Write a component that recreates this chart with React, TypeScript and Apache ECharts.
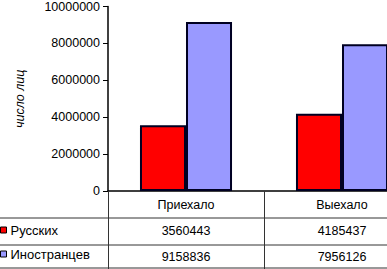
import React, { useEffect, useRef } from "react";
import * as echarts from "echarts";

const categories = ["Приехало", "Выехало"];
const seriesNames = ["Русских", "Иностранцев"];
const russians = [3560443, 4185437];
const foreigners = [9158836, 7956126];
const yTicks = { min: 0, max: 10000000, interval: 2000000 };
const colors = ["#FF0000", "#9999FF"];

export default function App() {
  const ref = useRef<HTMLDivElement>(null);
  useEffect(() => {
    if (!ref.current) return;
    const chart = echarts.init(ref.current, undefined, { renderer: "svg" });
    const font = "Arial, 'Liberation Sans', sans-serif";
    const gridLeft = 108;
    const gridTop = 4;
    const gridBottomY = 191;
    const rowYs = [204.5, 231, 257];
    const lineYs = [218, 245, 268];
    chart.setOption({
      animation: false,
      backgroundColor: "#ffffff",
      grid: { left: gridLeft, top: gridTop, width: 312, height: gridBottomY - gridTop, containLabel: false },
      xAxis: {
        type: "category",
        data: categories,
        axisLine: { show: true, lineStyle: { color: "#000", width: 1.5 } },
        axisTick: { show: true, inside: false, length: 80, alignWithLabel: false, lineStyle: { color: "#333", width: 1 } },
        axisLabel: { color: "#000", fontFamily: font, fontSize: 12.5, margin: 7 },
        splitLine: { show: false },
      },
      yAxis: {
        type: "value",
        min: yTicks.min,
        max: yTicks.max,
        interval: yTicks.interval,
        name: "число лиц",
        nameLocation: "middle",
        nameRotate: 90,
        nameGap: 82,
        nameTextStyle: { color: "#000", fontFamily: font, fontSize: 12.5, fontStyle: "italic" },
        axisLine: { show: true, lineStyle: { color: "#000", width: 1.5 } },
        axisTick: { show: true, length: 5, lineStyle: { color: "#000", width: 1 } },
        axisLabel: { color: "#000", fontFamily: font, fontSize: 12.5, margin: 8, formatter: (v: number) => String(v) },
        splitLine: { show: false },
      },
      legend: {
        orient: "vertical",
        left: 0,
        top: rowYs[1] - 7.5,
        itemGap: 11,
        itemWidth: 6,
        itemHeight: 6,
        icon: "rect",
        itemStyle: { borderColor: "#000", borderWidth: 1 },
        textStyle: { color: "#000", fontFamily: font, fontSize: 13, padding: [0, 0, 0, -1] },
        padding: 0,
        data: seriesNames,
      },
      series: [
        {
          name: seriesNames[0],
          type: "bar",
          data: russians,
          barGap: "0%",
          barCategoryGap: "41%",
          itemStyle: { color: colors[0], borderColor: "#000022", borderWidth: 2 },
        },
        {
          name: seriesNames[1],
          type: "bar",
          data: foreigners,
          barGap: "0%",
          barCategoryGap: "41%",
          itemStyle: { color: colors[1], borderColor: "#000022", borderWidth: 2 },
        },
      ],
    });
    const graphics: any[] = [];
    lineYs.forEach((y) => {
      graphics.push({
        type: "line",
        shape: { x1: 0, y1: y, x2: 440, y2: y },
        style: { stroke: "#333", lineWidth: 1 },
      });
    });
    const rows = [russians, foreigners];
    rows.forEach((vals, ri) => {
      vals.forEach((v, ci) => {
        const x = chart.convertToPixel({ xAxisIndex: 0 }, categories[ci]) as number;
        graphics.push({
          type: "text",
          x,
          y: rowYs[ri + 1],
          style: {
            text: String(v),
            fill: "#000",
            font: `12.5px ${font}`,
            align: "center",
            verticalAlign: "middle",
          },
        });
      });
    });
    chart.setOption({ graphic: graphics });
    return () => chart.dispose();
  }, []);
  return (
    <div style={{ position: "absolute", left: 0, top: 0, width: 387, height: 269, overflow: "hidden", background: "#fff" }}>
      <div ref={ref} style={{ width: 440, height: 269 }} />
    </div>
  );
}
